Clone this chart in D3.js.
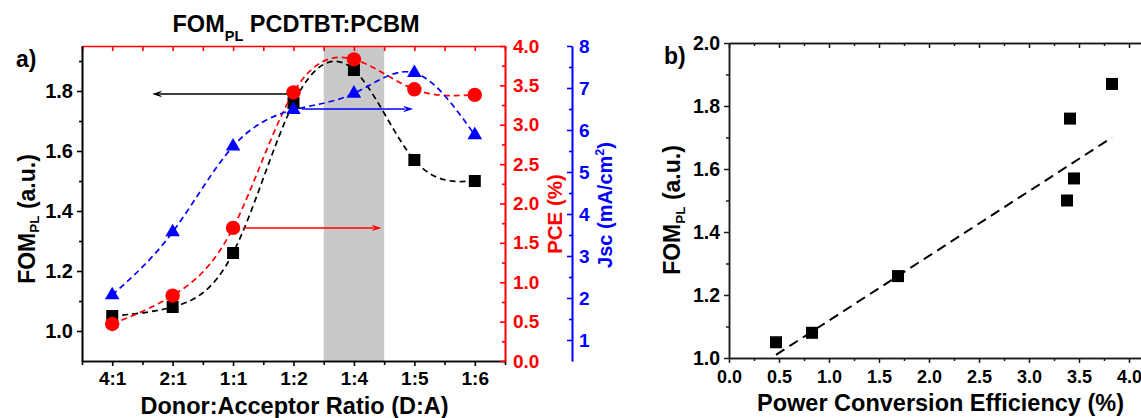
<!DOCTYPE html>
<html>
<head>
<meta charset="utf-8">
<script src="https://cdn.jsdelivr.net/npm/d3@7"></script>
<style>
  html, body { margin: 0; padding: 0; background: #fff; }
  svg { display: block; font-family: "Liberation Sans", Arial, sans-serif; font-weight: bold; }
</style>
</head>
<body>
<svg id="chart" width="1141" height="418"></svg>
<script>
// ---- data ----
const ratios = ["4:1", "2:1", "1:1", "1:2", "1:4", "1:5", "1:6"];
const fomPL  = [1.05, 1.08, 1.26, 1.76, 1.87, 1.57, 1.50];   // FOM_PL (a.u.)
const pce    = [0.47, 0.83, 1.69, 3.41, 3.83, 3.45, 3.38];   // PCE (%)
const jsc    = [2.07, 3.57, 5.61, 6.48, 6.87, 7.36, 5.88];   // Jsc (mA/cm2)
const optimumBand = [3.5, 4.5];                               // shaded region around 1:4 (category index units)
const fitLine = [[0.47, 1.01], [3.83, 1.70]];                 // linear trend of FOM_PL vs PCE

// arrows pointing each curve to its axis: [from index, to index, value]
const arrowFom = [2.89, 0.66, 1.79];
const arrowJsc = [3.14, 4.98, 6.50];
const arrowPce = [2.16, 4.46, 1.69];

const fomTicks  = [1.0, 1.2, 1.4, 1.6, 1.8];
const fomMinor  = [1.1, 1.3, 1.5, 1.7, 1.9];
const pceTicks  = [0, 0.5, 1.0, 1.5, 2.0, 2.5, 3.0, 3.5, 4.0];
const pceMinor  = [0.25, 0.75, 1.25, 1.75, 2.25, 2.75, 3.25, 3.75];
const jscTicks  = [1, 2, 3, 4, 5, 6, 7, 8];
const jscMinor  = [1.5, 2.5, 3.5, 4.5, 5.5, 6.5, 7.5];
const effTicks  = [0, 0.5, 1.0, 1.5, 2.0, 2.5, 3.0, 3.5, 4.0];
const effMinor  = [0.25, 0.75, 1.25, 1.75, 2.25, 2.75, 3.25, 3.75];
const fomTicksB = [1.0, 1.2, 1.4, 1.6, 1.8, 2.0];
const fomMinorB = [1.1, 1.3, 1.5, 1.7, 1.9];

const RED = "#ff0000", BLUE = "#0000ff", BLACK = "#000000";
const svg = d3.select("#chart");
const f1 = d3.format(".1f");

// ---------------- panel a ----------------
const A = { left: 82, right: 505, top: 46, bottom: 361 };
const x    = d3.scaleLinear([-0.5, 6.5], [A.left, A.right]);
const yFom = d3.scaleLinear([0.9, 1.95], [A.bottom, A.top]);
const yPce = d3.scaleLinear([0, 4], [A.bottom, A.top]);
const yJsc = d3.scaleLinear([0.5, 8], [A.bottom, A.top]);

const pa = svg.append("g");

pa.append("rect")
  .attr("x", x(optimumBand[0])).attr("y", A.top)
  .attr("width", x(optimumBand[1]) - x(optimumBand[0]))
  .attr("height", A.bottom - A.top)
  .attr("fill", "#c9c9c9");

function curve(values, yScale) {
  return d3.line().x((d, i) => x(i)).y(d => yScale(d)).curve(d3.curveNatural)(values);
}
function dashed(g, values, yScale, color) {
  g.append("path").attr("d", curve(values, yScale))
    .attr("fill", "none").attr("stroke", color)
    .attr("stroke-width", 1.7).attr("stroke-dasharray", "6,4");
}

// FOM_PL series (squares)
dashed(pa, fomPL, yFom, BLACK);
pa.selectAll(".sq").data(fomPL).join("rect")
  .attr("x", (d, i) => x(i) - 6).attr("y", d => yFom(d) - 6)
  .attr("width", 12).attr("height", 12).attr("fill", BLACK);

// PCE series (circles)
dashed(pa, pce, yPce, RED);
pa.selectAll(".ci").data(pce).join("circle")
  .attr("cx", (d, i) => x(i)).attr("cy", d => yPce(d))
  .attr("r", 7.2).attr("fill", RED);

// Jsc series (triangles)
dashed(pa, jsc, yJsc, BLUE);
pa.selectAll(".tr").data(jsc).join("path")
  .attr("d", d3.symbol(d3.symbolTriangle, 92))
  .attr("transform", (d, i) => `translate(${x(i)},${yJsc(d)})`)
  .attr("fill", BLUE);

// axis-pointing arrows
function arrow(spec, yScale, color) {
  const [x0, x1, v] = spec;
  const X0 = x(x0), X1 = x(x1), Y = yScale(v);
  const dir = Math.sign(X1 - X0);
  pa.append("line").attr("x1", X0).attr("y1", Y).attr("x2", X1 - dir * 8).attr("y2", Y)
    .attr("stroke", color).attr("stroke-width", 1.5);
  pa.append("path")
    .attr("d", `M${X1},${Y} L${X1 - dir * 10},${Y - 3.2} L${X1 - dir * 7},${Y} L${X1 - dir * 10},${Y + 3.2} Z`)
    .attr("fill", color);
}
arrow(arrowFom, yFom, BLACK);
arrow(arrowJsc, yJsc, BLUE);
arrow(arrowPce, yPce, RED);

function styleAxis(g, color, width, fontSize) {
  g.selectAll("path.domain").attr("stroke", color).attr("stroke-width", width);
  g.selectAll(".tick line").attr("stroke", color).attr("stroke-width", width);
  g.selectAll(".tick text").attr("fill", color)
    .style("font-size", fontSize + "px").style("font-family", "'Liberation Sans', Arial, sans-serif")
    .style("font-weight", "bold");
  g.attr("font-family", null).attr("font-size", null);
}

// bottom axis
const halfSteps = d3.range(-0.5, 6.51, 1);
const gb = pa.append("g").attr("transform", `translate(0,${A.bottom})`)
  .call(d3.axisBottom(x).tickValues(d3.range(7)).tickFormat(i => ratios[i])
    .tickSize(5).tickSizeOuter(0).tickPadding(6));
styleAxis(gb, BLACK, 1.6, 19);
const gbm = pa.append("g").attr("transform", `translate(0,${A.bottom})`)
  .call(d3.axisBottom(x).tickValues(halfSteps).tickFormat("").tickSize(4).tickSizeOuter(0));
styleAxis(gbm, BLACK, 1.6, 19);

// top axis (red, ticks inward)
const gt = pa.append("g").attr("transform", `translate(0,${A.top})`)
  .call(d3.axisTop(x).tickValues(d3.range(-0.5, 6.51, 0.5)).tickFormat("")
    .tickSize(-5).tickSizeOuter(0));
styleAxis(gt, RED, 1.6, 19);

// left FOM axis
const gl = pa.append("g").attr("transform", `translate(${A.left},0)`)
  .call(d3.axisLeft(yFom).tickValues(fomTicks).tickFormat(f1)
    .tickSize(5).tickSizeOuter(0).tickPadding(4));
styleAxis(gl, BLACK, 1.6, 20);
const glm = pa.append("g").attr("transform", `translate(${A.left},0)`)
  .call(d3.axisLeft(yFom).tickValues(fomMinor).tickFormat("").tickSize(3).tickSizeOuter(0));
styleAxis(glm, BLACK, 1.6, 20);

// PCE axis (red)
const gp = pa.append("g").attr("transform", `translate(${A.right},0)`)
  .call(d3.axisRight(yPce).tickValues(pceTicks).tickFormat(f1)
    .tickSize(-5).tickSizeOuter(0).tickPadding(8));
styleAxis(gp, RED, 1.6, 19);
const gpm = pa.append("g").attr("transform", `translate(${A.right},0)`)
  .call(d3.axisRight(yPce).tickValues(pceMinor).tickFormat("").tickSize(-3).tickSizeOuter(0));
styleAxis(gpm, RED, 1.6, 19);

// Jsc axis (blue)
const jscX = 572;
const gj = pa.append("g").attr("transform", `translate(${jscX},0)`)
  .call(d3.axisRight(yJsc).tickValues(jscTicks).tickFormat(d3.format("d"))
    .tickSize(-5).tickSizeOuter(0).tickPadding(7));
styleAxis(gj, BLUE, 1.6, 19);
const gjm = pa.append("g").attr("transform", `translate(${jscX},0)`)
  .call(d3.axisRight(yJsc).tickValues(jscMinor).tickFormat("").tickSize(-3).tickSizeOuter(0));
styleAxis(gjm, BLUE, 1.6, 19);

// titles and labels, panel a
const title = pa.append("text").attr("x", 296).attr("y", 32).attr("text-anchor", "middle")
  .style("font-size", "23.5px").attr("fill", BLACK);
title.append("tspan").text("FOM");
title.append("tspan").attr("dy", 9).style("font-size", "14.5px").text("PL");
title.append("tspan").attr("dy", -9).text(" PCDTBT:PCBM");

pa.append("text").attr("x", 16).attr("y", 67).style("font-size", "23px").text("a)");

pa.append("text").attr("x", 294.5).attr("y", 414).attr("text-anchor", "middle")
  .style("font-size", "23.5px").text("Donor:Acceptor Ratio (D:A)");

const yl = pa.append("text").attr("transform", "translate(35,219) rotate(-90)")
  .attr("text-anchor", "middle").style("font-size", "23px");
yl.append("tspan").text("FOM");
yl.append("tspan").attr("dy", 4).style("font-size", "13.5px").text("PL");
yl.append("tspan").attr("dy", -4).text(" (a.u.)");

pa.append("text").attr("transform", "translate(562,214) rotate(-90)")
  .attr("text-anchor", "middle").style("font-size", "20.5px").attr("fill", RED).text("PCE (%)");

const jl = pa.append("text").attr("transform", "translate(612,205) rotate(-90)")
  .attr("text-anchor", "middle").style("font-size", "20px").attr("fill", BLUE);
jl.append("tspan").text("Jsc (mA/cm");
jl.append("tspan").attr("dy", -8).style("font-size", "12.5px").text("2");
jl.append("tspan").attr("dy", 8).text(")");

// ---------------- panel b ----------------
const B = { left: 729, right: 1144, top: 43, bottom: 358 };
const xE = d3.scaleLinear([0, 4.15], [B.left, B.right]);
const yB = d3.scaleLinear([1.0, 2.0], [B.bottom, B.top]);
const pb = svg.append("g");
const AX = "#1a1a1a";

pb.append("line").attr("x1", B.right).attr("x2", B.right).attr("y1", B.top).attr("y2", B.bottom)
  .attr("stroke", AX).attr("stroke-width", 1.5);

pb.selectAll(".sqb").data(pce).join("rect")
  .attr("x", d => xE(d) - 6).attr("y", (d, i) => yB(fomPL[i]) - 6)
  .attr("width", 12).attr("height", 12).attr("fill", BLACK);

pb.append("path")
  .attr("d", d3.line().x(d => xE(d[0])).y(d => yB(d[1]))(fitLine))
  .attr("fill", "none").attr("stroke", BLACK).attr("stroke-width", 2)
  .attr("stroke-dasharray", "10,6");

const gbb = pb.append("g").attr("transform", `translate(0,${B.bottom})`)
  .call(d3.axisBottom(xE).tickValues(effTicks).tickFormat(f1)
    .tickSize(5).tickSizeOuter(0).tickPadding(7));
styleAxis(gbb, AX, 1.5, 18);
gbb.selectAll(".tick text").attr("fill", BLACK);
const gbbm = pb.append("g").attr("transform", `translate(0,${B.bottom})`)
  .call(d3.axisBottom(xE).tickValues(effMinor).tickFormat("").tickSize(3).tickSizeOuter(0));
styleAxis(gbbm, AX, 1.5, 18);

const gtb = pb.append("g").attr("transform", `translate(0,${B.top})`)
  .call(d3.axisTop(xE).tickValues(effTicks).tickFormat("").tickSize(-5).tickSizeOuter(0));
styleAxis(gtb, AX, 1.5, 18);
const gtbm = pb.append("g").attr("transform", `translate(0,${B.top})`)
  .call(d3.axisTop(xE).tickValues(effMinor).tickFormat("").tickSize(-3).tickSizeOuter(0));
styleAxis(gtbm, AX, 1.5, 18);

const glb = pb.append("g").attr("transform", `translate(${B.left},0)`)
  .call(d3.axisLeft(yB).tickValues(fomTicksB).tickFormat(f1)
    .tickSize(5).tickSizeOuter(0).tickPadding(4));
styleAxis(glb, AX, 1.5, 19.5);
glb.selectAll(".tick text").attr("fill", BLACK);
const glbm = pb.append("g").attr("transform", `translate(${B.left},0)`)
  .call(d3.axisLeft(yB).tickValues(fomMinorB).tickFormat("").tickSize(3).tickSizeOuter(0));
styleAxis(glbm, AX, 1.5, 19.5);

pb.append("text").attr("x", 664).attr("y", 64).style("font-size", "23px").text("b)");

pb.append("text").attr("x", 940.5).attr("y", 411).attr("text-anchor", "middle")
  .style("font-size", "23.5px").text("Power Conversion Efficiency (%)");

const ylb = pb.append("text").attr("transform", "translate(680,210) rotate(-90)")
  .attr("text-anchor", "middle").style("font-size", "23px");
ylb.append("tspan").text("FOM");
ylb.append("tspan").attr("dy", 5).style("font-size", "13.5px").text("PL");
ylb.append("tspan").attr("dy", -5).text(" (a.u.)");
</script>
</body>
</html>
